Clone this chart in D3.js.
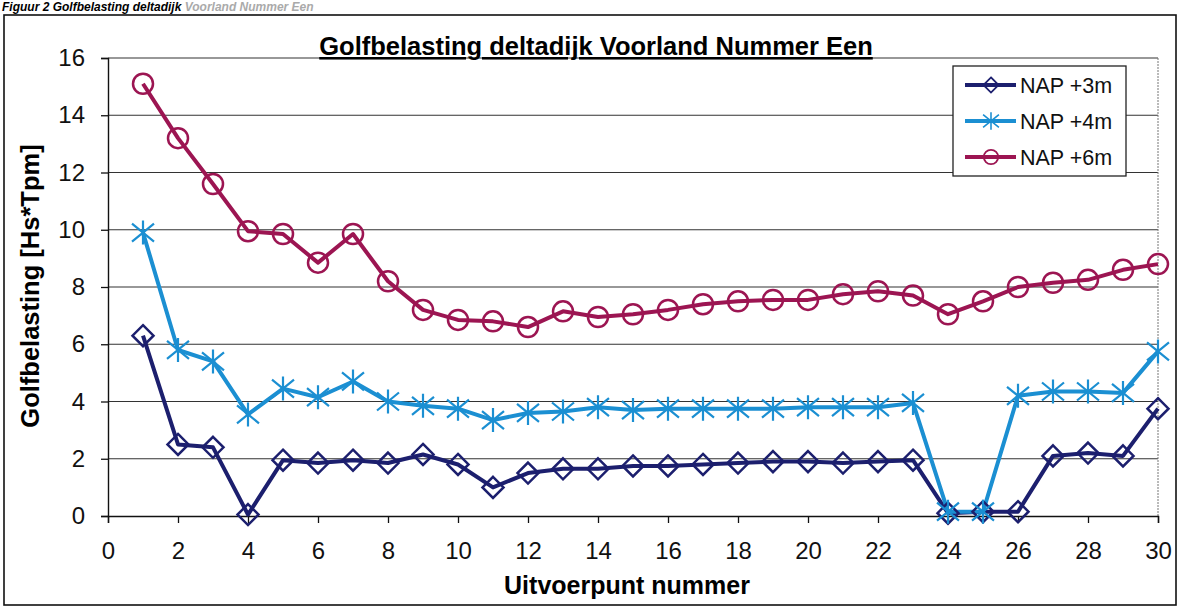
<!DOCTYPE html>
<html>
<head>
<meta charset="utf-8">
<script src="https://cdn.jsdelivr.net/npm/d3@7"></script>
<style>
  body { margin: 0; background: #fff; }
  svg { display: block; font-family: Arial, "Liberation Sans", sans-serif; }
</style>
</head>
<body>
<div id="chart"></div>
<script>
// Uitvoerpunten 1..30
const points = d3.range(1, 31);

// Golfbelasting per waterstand
const nap3 = [6.3, 2.5, 2.4, 0.05, 1.95, 1.85, 1.95, 1.85, 2.15, 1.8, 1.0, 1.5, 1.65, 1.65, 1.75,
  1.75, 1.8, 1.85, 1.9, 1.9, 1.85, 1.9, 1.95, 0.1, 0.15, 0.15, 2.1, 2.2, 2.1, 3.75];
const nap4 = [9.9, 5.8, 5.4, 3.55, 4.45, 4.15, 4.7, 4.0, 3.85, 3.75, 3.35, 3.6, 3.65, 3.8, 3.7,
  3.75, 3.75, 3.75, 3.75, 3.8, 3.8, 3.8, 3.95, 0.15, 0.15, 4.2, 4.35, 4.35, 4.3, 5.75];
const nap6 = [15.1, 13.2, 11.6, 9.95, 9.85, 8.85, 9.85, 8.2, 7.2, 6.85, 6.8, 6.6, 7.15, 6.95, 7.05,
  7.2, 7.4, 7.5, 7.55, 7.55, 7.75, 7.85, 7.7, 7.05, 7.5, 8.0, 8.15, 8.25, 8.6, 8.8];

const seriesNames = ["NAP +3m", "NAP +4m", "NAP +6m"];
const xTicks = d3.range(0, 31, 2);
const yTicks = d3.range(0, 17, 2);

const width = 1185, height = 610;
const colors = ["#1c1f6e", "#1b8fd2", "#9c1552"];
const markers = ["diamond", "star", "circle"];

const series = [nap3, nap4, nap6].map((vals, i) => ({
  name: seriesNames[i], color: colors[i], marker: markers[i],
  values: vals.map((v, j) => ({ x: points[j], y: v }))
}));

const svg = d3.select("#chart").append("svg")
    .attr("width", width)
    .attr("height", height);

// figure caption above the frame
const cap = svg.append("text")
    .attr("x", 2).attr("y", 11)
    .attr("font-size", 12).attr("font-weight", "bold").attr("font-style", "italic");
cap.append("tspan").text("Figuur 2 Golfbelasting deltadijk ");
cap.append("tspan").attr("fill", "#aaa").text("Voorland Nummer Een");

// outer chart frame
svg.append("rect")
    .attr("x", 4).attr("y", 15)
    .attr("width", 1172).attr("height", 590)
    .attr("fill", "none").attr("stroke", "#111").attr("stroke-width", 1.6);

const x = d3.scaleLinear().domain([0, 30]).range([108, 1158]);
const y = d3.scaleLinear().domain([0, 16]).range([516, 58]);

// gridlines
svg.append("g")
  .selectAll("line")
  .data(yTicks.filter(d => d > 0))
  .join("line")
    .attr("x1", x(0)).attr("x2", x(30))
    .attr("y1", d => y(d)).attr("y2", d => y(d))
    .attr("stroke", "#333").attr("stroke-width", 1.1);

// plot area right border
svg.append("line")
    .attr("x1", x(30)).attr("x2", x(30))
    .attr("y1", y(16)).attr("y2", y(0))
    .attr("stroke", "#777").attr("stroke-dasharray", "2,1");

// axes
const xAxis = svg.append("g")
    .attr("transform", `translate(0,${y(0)})`)
    .call(d3.axisBottom(x).tickValues(xTicks).tickSize(7).tickPadding(19));
const yAxis = svg.append("g")
    .attr("transform", `translate(${x(0)},0)`)
    .call(d3.axisLeft(y).tickValues(yTicks).tickSize(7).tickPadding(16));
[xAxis, yAxis].forEach(a => {
  a.select(".domain").attr("stroke", "#111").attr("stroke-width", 1.4);
  a.selectAll(".tick line").attr("stroke", "#111").attr("stroke-width", 1.3);
  a.selectAll(".tick text").attr("font-size", 24).attr("fill", "#111")
    .attr("font-family", "Arial, 'Liberation Sans', sans-serif");
});

// lines
const line = d3.line().x(d => x(d.x)).y(d => y(d.y));
svg.append("g")
  .selectAll("path")
  .data(series)
  .join("path")
    .attr("d", d => line(d.values))
    .attr("fill", "none")
    .attr("stroke", d => d.color)
    .attr("stroke-width", 4)
    .attr("stroke-linejoin", "round");

function drawMarker(g, type, color) {
  if (type === "diamond") {
    g.append("path").attr("d", "M0,-10.5L10.5,0L0,10.5L-10.5,0Z")
      .attr("fill", "none").attr("stroke", color).attr("stroke-width", 2.5);
  } else if (type === "circle") {
    g.append("circle").attr("r", 10)
      .attr("fill", "none").attr("stroke", color).attr("stroke-width", 2.5);
  } else {
    g.append("path").attr("d", "M-11,-9L11,9M-11,9L11,-9M0,-12L0,12")
      .attr("fill", "none").attr("stroke", color).attr("stroke-width", 2.2);
  }
}

// markers
series.forEach(s => {
  svg.append("g")
    .selectAll("g")
    .data(s.values)
    .join("g")
      .attr("transform", d => `translate(${x(d.x)},${y(d.y)})`)
      .each(function() { drawMarker(d3.select(this), s.marker, s.color); });
});

// title
svg.append("text")
    .attr("x", 596).attr("y", 55)
    .attr("text-anchor", "middle")
    .attr("font-size", 25.5).attr("font-weight", "bold")
    .attr("text-decoration", "underline")
    .text("Golfbelasting deltadijk Voorland Nummer Een");

// axis titles
svg.append("text")
    .attr("x", 627).attr("y", 594)
    .attr("text-anchor", "middle")
    .attr("font-size", 25).attr("font-weight", "bold")
    .text("Uitvoerpunt nummer");
svg.append("text")
    .attr("transform", "translate(39,286) rotate(-90)")
    .attr("text-anchor", "middle")
    .attr("font-size", 25.5).attr("font-weight", "bold")
    .text("Golfbelasting [Hs*Tpm]");

// legend
const legend = svg.append("g").attr("transform", "translate(953,66)");
legend.append("rect")
    .attr("width", 173).attr("height", 110)
    .attr("fill", "#fff").attr("stroke", "#222").attr("stroke-width", 1.3);
const item = legend.selectAll("g.item")
  .data(series)
  .join("g")
    .attr("class", "item")
    .attr("transform", (d, i) => `translate(0,${19 + i * 36})`);
item.append("line")
    .attr("x1", 12).attr("x2", 63)
    .attr("stroke", d => d.color).attr("stroke-width", 4);
item.each(function(d) {
  const g = d3.select(this).append("g").attr("transform", "translate(38,0) scale(0.72)");
  drawMarker(g, d.marker, d.color);
});
item.append("text")
    .attr("x", 67).attr("y", 8)
    .attr("font-size", 21.5).attr("fill", "#111")
    .text(d => d.name);
</script>
</body>
</html>
